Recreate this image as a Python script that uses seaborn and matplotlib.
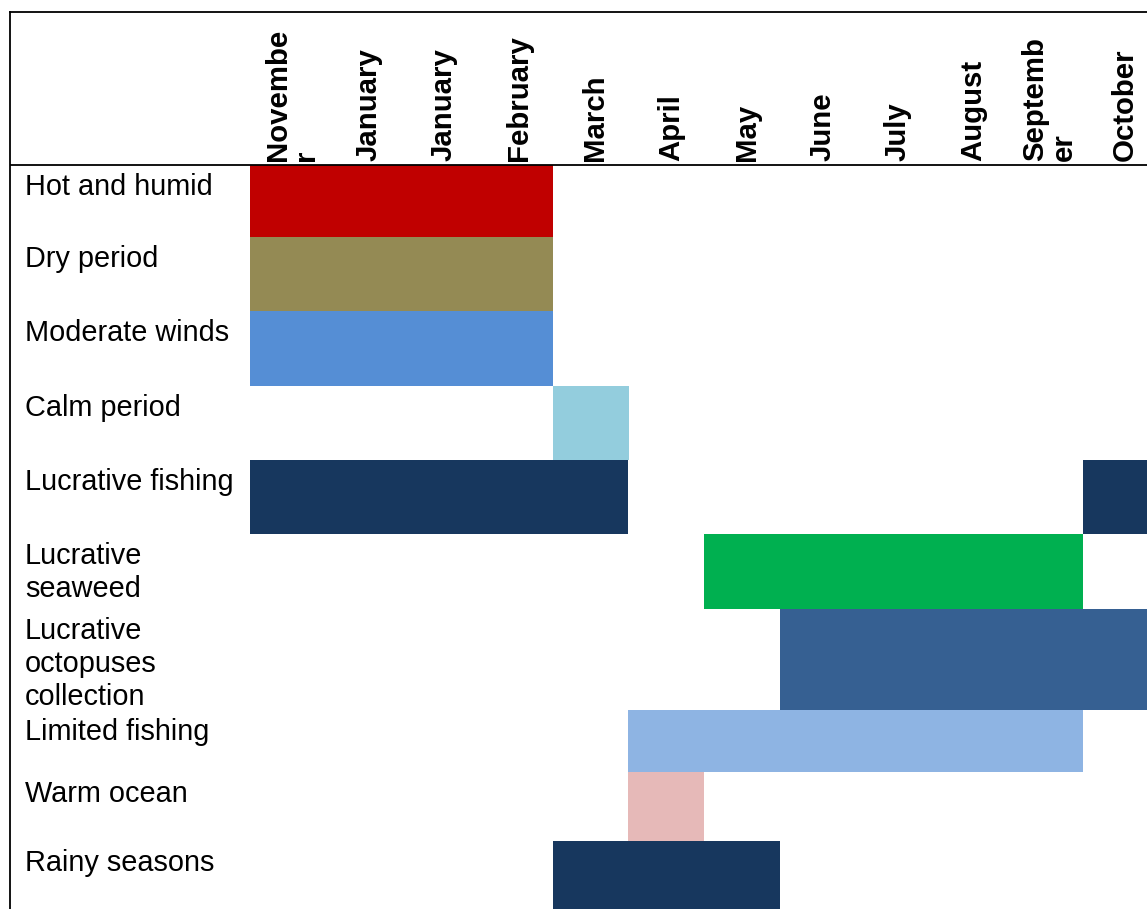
import numpy as np
import matplotlib
matplotlib.use("Agg")
import matplotlib.pyplot as plt
import seaborn as sns

# ---------------- data ----------------
months = ["Novembe\nr", "January", "January", "February", "March", "April",
          "May", "June", "July", "August", "Septemb\ner", "October"]
tasks = ["Hot and humid", "Dry period", "Moderate winds", "Calm period",
         "Lucrative fishing", "Lucrative\nseaweed", "Lucrative\noctopuses\ncollection",
         "Limited fishing", "Warm ocean", "Rainy seasons"]
# bar segments: row index, start column, number of columns
bar_task = [0, 1, 2, 3, 4, 4, 5, 6, 7, 8, 9]
bar_start = [0, 0, 0, 4, 0, 11, 6, 7, 5, 5, 4]
bar_len = [4, 4, 4, 1, 5, 1, 5, 5, 6, 1, 3]
task_colors = ["#C00000", "#948A54", "#558ED5", "#93CDDD", "#17375E",
               "#00B050", "#366092", "#8EB4E3", "#E6B9B8", "#17375E"]

# ---------------- layout (pixels) ----------------
W, H, DPI = 1147, 909, 100
frame_left, frame_top = 10, 12
grid_left = 250
col_w = 75.7
header_h = 153
row_heights = [72, 74, 75, 74, 74, 75, 101, 62, 69, 68]

sns.set_theme(style="white")
plt.rcParams["font.family"] = ["Liberation Sans", "DejaVu Sans"]

fig = plt.figure(figsize=(W / DPI, H / DPI), dpi=DPI)
ax = fig.add_axes([frame_left / W, 0, (W - frame_left) / W, (H - frame_top) / H])

x_left = -(grid_left - frame_left) / col_w
x_right = (W - grid_left) / col_w
total_h = H - frame_top
ax.set_xlim(x_left, x_right)
ax.set_ylim(total_h, 0)

row_tops = header_h + np.concatenate([[0], np.cumsum(row_heights)[:-1]])
row_centers = row_tops + np.array(row_heights) / 2

ys = [row_centers[i] for i in bar_task]
hs = [row_heights[i] for i in bar_task]
cs = [task_colors[i] for i in bar_task]
ax.barh(ys, bar_len, left=bar_start, height=hs, color=cs,
        edgecolor="none", linewidth=0, antialiased=False, zorder=2)

# header line
ax.axhline(header_h, color="black", lw=1.3, zorder=3)

# row labels
for top, name in zip(row_tops, tasks):
    ax.text(x_left + 15 / col_w, top + 8, name, ha="left", va="top",
            fontsize=20.8, color="black", linespacing=1.22, zorder=4)

# month header labels
for i, m in enumerate(months):
    ax.text(i + 0.5 + 0.06, header_h - 4, m, rotation=90, ha="center",
            va="bottom", fontsize=21.2, fontweight="bold", color="black",
            multialignment="left", linespacing=1.0, zorder=4)

ax.set_xticks([])
ax.set_yticks([])
for side in ["right", "bottom"]:
    ax.spines[side].set_visible(False)
for side in ["top", "left"]:
    ax.spines[side].set_visible(True)
    ax.spines[side].set_color("black")
    ax.spines[side].set_linewidth(1.3)

fig.savefig("out.png", dpi=DPI, facecolor="white")
